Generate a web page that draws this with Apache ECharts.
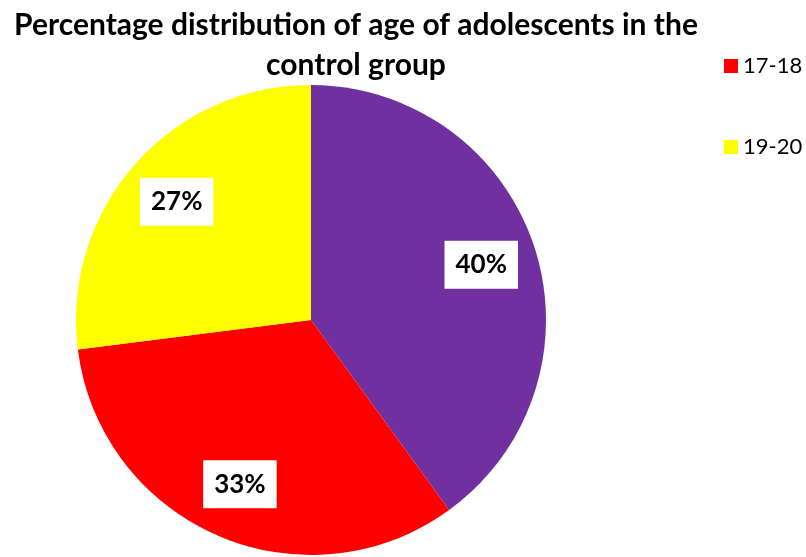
<!DOCTYPE html>
<html><head><meta charset="utf-8">
<script src="https://cdn.jsdelivr.net/npm/echarts@6/dist/echarts.min.js"></script>
<style>html,body{margin:0;padding:0;background:#fff}#c{width:806px;height:557px}</style>
</head><body><div id="c"></div>
<script>
const categories = ['15-16', '17-18', '19-20'];
const values = [40, 33, 27];
const colors = ['#7030A0', '#FF0000', '#FFFF00'];
const legendItems = ['17-18', '19-20'];
const titleText = 'Percentage distribution of age of adolescents in the\ncontrol group';

const data = categories.map((c, i) => ({ name: c, value: values[i], itemStyle: { color: colors[i] } }));
const chart = echarts.init(document.getElementById('c'));
chart.setOption({
  animation: false,
  title: {
    text: titleText, left: 351, top: 0, textAlign: 'center',
    textStyle: { fontFamily: 'Lato', fontWeight: 'bold', fontSize: 30, lineHeight: 40, color: '#000' }
  },
  legend: {
    data: legendItems, orient: 'vertical', left: 719, top: 50,
    itemWidth: 14, itemHeight: 14, itemGap: 59, icon: 'rect',
    textStyle: { fontFamily: 'Lato', fontSize: 22, color: '#000' }
  },
  series: [
    {
      type: 'pie', center: [311, 320], radius: [0, 235], startAngle: 90, clockwise: true,
      data: data, label: { show: false }, labelLine: { show: false }, silent: true
    },
    {
      type: 'pie', center: [311, 320], radius: [0, 352], startAngle: 90, clockwise: true, silent: true,
      data: data.map(d => ({ name: d.name, value: d.value, itemStyle: { color: 'rgba(0,0,0,0)' } })),
      label: {
        show: true, position: 'inside', formatter: '{c}%',
        fontFamily: 'Lato', fontWeight: 'bold', fontSize: 26, color: '#000',
        backgroundColor: '#fff', padding: [12, 11, 10, 11]
      },
      labelLine: { show: false }
    }
  ]
});
</script></body></html>
